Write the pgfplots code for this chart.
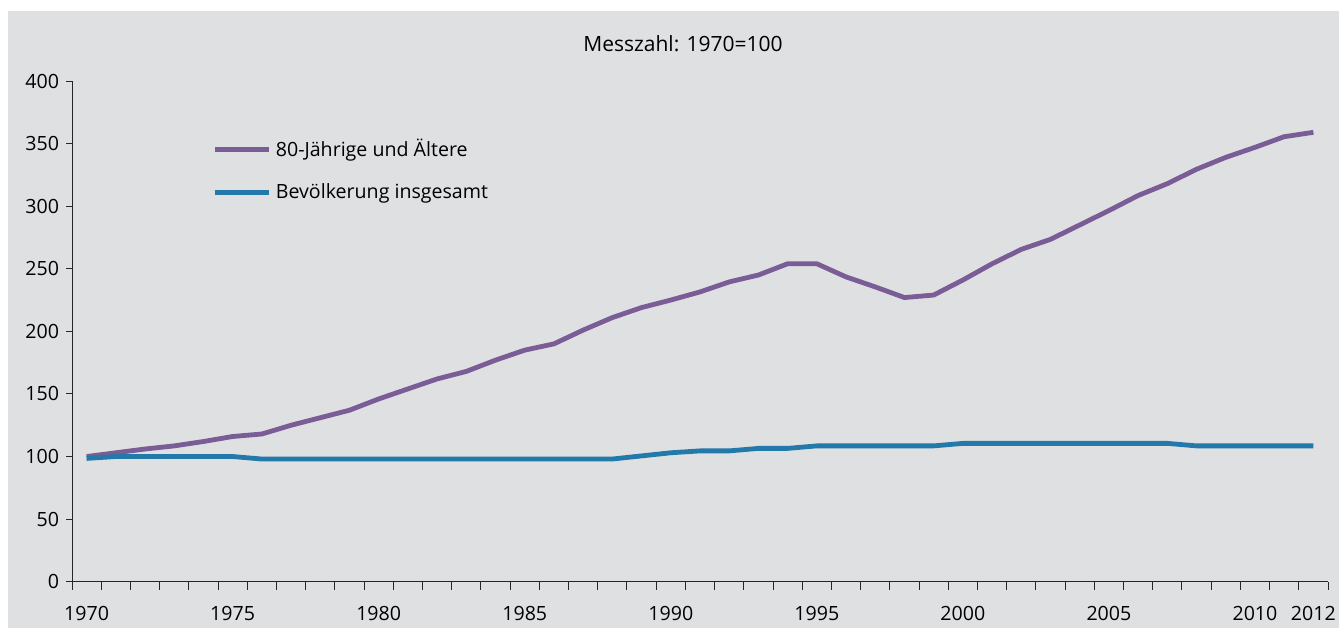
\documentclass[border=0pt]{standalone}
\usepackage{fontspec}
\setmainfont{Open Sans}
\usepackage{pgfplots}
\pgfplotsset{compat=1.18}
\definecolor{bg}{RGB}{223,224,226}
\definecolor{lila}{RGB}{122,92,150}
\definecolor{blau}{RGB}{35,121,170}
\pgfplotstableread{
year old total
1970 100 98.5
1971 103 100
1972 106 100
1973 108.5 100
1974 112 100
1975 116 100
1976 118 98
1977 125 98
1978 131 98
1979 137 98
1980 146 98
1981 154 98
1982 162 98
1983 168 98
1984 177 98
1985 185 98
1986 190 98
1987 201 98
1988 211 98
1989 219 100.5
1990 225 103
1991 231.5 104.5
1992 239.5 104.5
1993 245 106.5
1994 254 106.5
1995 254 108.5
1996 243.5 108.5
1997 235.5 108.5
1998 227 108.5
1999 229 108.5
2000 241 110.5
2001 254 110.5
2002 265.5 110.5
2003 273.5 110.5
2004 285 110.5
2005 296.5 110.5
2006 308.5 110.5
2007 318 110.5
2008 329.5 108.5
2009 339 108.5
2010 347 108.5
2011 355.5 108.5
2012 359 108.5
}\data
\begin{document}
\fontsize{9.8}{12}\selectfont
\begin{tikzpicture}
\path[use as bounding box] (0,0) rectangle (669.5pt,314pt);
\fill[bg] (4pt,0) rectangle (669.5pt,308.5pt);
\node[font=\fontsize{10.5}{12}\selectfont] at (341.5pt,292pt) {Messzahl: 1970=100};
\begin{axis}[
  at={(36pt,23.15pt)}, anchor=south west,
  scale only axis, width=628pt, height=250.35pt,
  xmin=1969.5, xmax=2012.5, ymin=0, ymax=400,
  axis lines=left,
  axis line style={-, black!85, line width=0.5pt},
  every tick/.style={black!85, line width=0.5pt},
  tick align=outside,
  xtick={1970,1975,1980,1985,1990,1995,2000,2005,2010,2012},
  major x tick style={draw=none},
  minor xtick={1969.5,1970.5,...,2012.5},
  minor tick length=4pt,
  ytick={0,50,...,400},
  major tick length=3pt,
  xticklabel style={/pgf/number format/1000 sep={}, yshift=-6pt},
  /pgf/number format/assume math mode=true,
  tick label style={font=\fontsize{9.8}{12}\selectfont, text=black},
  legend style={at={(0.112,0.892)}, anchor=north west, draw=none, fill=none,
    font=\fontsize{9.8}{12}\selectfont, row sep=8pt, inner sep=0pt},
  legend cell align=left,
  legend image code/.code={\draw[#1] (0pt,0pt) -- (27pt,0pt);},
]
\addplot[lila, line width=2.4pt, line join=round] table[x=year,y=old] {\data};
\addlegendentry{80-Jährige und Ältere}
\addplot[blau, line width=2.4pt, line join=round] table[x=year,y=total] {\data};
\addlegendentry{Bevölkerung insgesamt}
\end{axis}
\end{tikzpicture}
\end{document}
